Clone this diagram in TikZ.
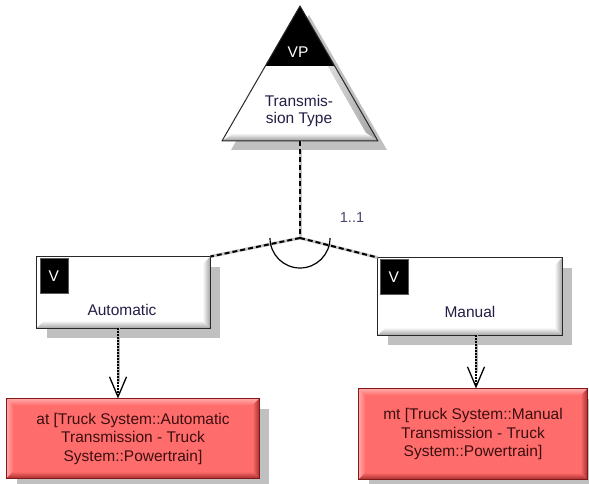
\documentclass[tikz,border=0pt]{standalone}
\usepackage{fontspec}
\setmainfont{Liberation Sans}
\usetikzlibrary{arrows.meta,shadows,calc}
\definecolor{shadowgray}{RGB}{192,192,192}
\definecolor{redfill}{RGB}{255,108,108}
\definecolor{redborder}{RGB}{130,25,25}
\definecolor{reddark}{RGB}{165,45,45}
\definecolor{redlight}{RGB}{255,170,170}
\definecolor{labelink}{RGB}{35,30,70}
\definecolor{oneink}{RGB}{70,70,110}
\definecolor{redink}{RGB}{60,15,15}
\definecolor{boxborder}{RGB}{40,40,40}
% #1 node, #2 base colour, #3 light colour, #4 dark colour, #5 bevel width, #6 border colour
\newcommand\bevelbox[6]{%
  \shade[top color=#3,bottom color=#2] (#1.north west) -- (#1.north east) -- ([shift={(-#5,-#5)}]#1.north east) -- ([shift={(#5,-#5)}]#1.north west) -- cycle;
  \shade[left color=#3,right color=#2] (#1.north west) -- ([shift={(#5,-#5)}]#1.north west) -- ([shift={(#5,#5)}]#1.south west) -- (#1.south west) -- cycle;
  \shade[left color=#2,right color=#4] (#1.north east) -- (#1.south east) -- ([shift={(-#5,#5)}]#1.south east) -- ([shift={(-#5,-#5)}]#1.north east) -- cycle;
  \shade[top color=#2,bottom color=#4] (#1.south west) -- (#1.south east) -- ([shift={(-#5,#5)}]#1.south east) -- ([shift={(#5,#5)}]#1.south west) -- cycle;
  \draw[draw=#6,line width=1pt] (#1.south west) rectangle (#1.north east);
}
\begin{document}
\begin{tikzpicture}[x=1pt,y=1pt,
  txt/.style={font=\fontsize{15.5}{19}\selectfont, text=labelink, align=center, inner sep=0pt},
  wbox/.style={draw=boxborder, line width=1pt, fill=white, inner sep=0pt,
    drop shadow={shadow xshift=10pt,shadow yshift=-10pt,fill=shadowgray,opacity=1}},
  rbox/.style={draw=redborder, line width=1pt, fill=redfill, inner sep=0pt,
    drop shadow={shadow xshift=10pt,shadow yshift=-10pt,fill=shadowgray,opacity=1}},
  badge/.style={fill=black, draw=gray!70!black, line width=0.6pt, inner sep=0pt, minimum width=28pt, minimum height=35pt,
    text=white, font=\fontsize{15.5}{19}\selectfont, anchor=north west},
  vpline/.style={line width=2pt, dash pattern=on 5pt off 3pt, preaction={draw=gray!45, line width=3pt, solid}},
  depunder/.style={draw=gray!55, line width=3pt, shorten >=16pt},
  depline/.style={line width=2pt, dash pattern=on 1.5pt off 1.5pt,
    -{Straight Barb[length=20pt,width=17pt,line width=1.3pt]}}
]
\useasboundingbox (0,0) rectangle (589,484);
\fill[white] (0,0) rectangle (589,484);

% variation point triangle
\fill[shadowgray] (309,469) -- (387,334) -- (231,334) -- cycle;
\fill[white] (300,478) -- (378,343) -- (222,343) -- cycle;
\shade[left color=white, right color=gray!75] (300,478) -- (378,343) -- (366,351) -- (300,466) -- cycle;
\shade[top color=white, bottom color=gray!80] (222,343) -- (378,343) -- (366,351) -- (234,351) -- cycle;
\fill[black] (300,478) -- (334.7,418) -- (265.3,418) -- cycle;
\draw[draw=boxborder, line width=1pt, line join=round] (300,478) -- (378,343) -- (222,343) -- cycle;
\node[txt, text=white] (vp) at (298,432) {VP};
\node[txt, font=\fontsize{15.5}{17}\selectfont] (vptext) at (299,373) {Transmis-\\sion Type};
\coordinate (vpb) at (300,343);
\coordinate (J) at (300,246);

% variant boxes
\node[wbox, minimum width=173pt, minimum height=71pt] (aut) at (123.5,191.5) {};
\bevelbox{aut}{white}{white}{gray!75}{8}{boxborder}
\node[badge] (autv) at ([shift={(3,-2)}]aut.north west) {V};
\node[txt] (autl) at (122,174) {Automatic};

\node[wbox, minimum width=184pt, minimum height=77pt] (man) at (470,187.5) {};
\bevelbox{man}{white}{white}{gray!75}{8}{boxborder}
\node[badge] (manv) at ([shift={(2,-2)}]man.north west) {V};
\node[txt] (manl) at (470,172) {Manual};

% realisation boxes
\node[rbox, minimum width=252pt, minimum height=79pt] (atbox) at (133,45.5) {};
\bevelbox{atbox}{redfill}{redlight}{reddark}{7}{redborder}
\node[txt, text=redink, font=\fontsize{15.5}{18.5}\selectfont] (atl) at (atbox) {at [Truck System::Automatic\\Transmission - Truck\\System::Powertrain]};

\node[rbox, minimum width=228pt, minimum height=90pt] (mtbox) at (473,50) {};
\bevelbox{mtbox}{redfill}{redlight}{reddark}{7}{redborder}
\node[txt, text=redink, font=\fontsize{15.5}{18.5}\selectfont] (mtl) at (mtbox) {mt [Truck System::Manual\\Transmission - Truck\\System::Powertrain]};

% connectors
\draw[vpline] (vpb) -- (J);
\draw[vpline] (J) -- (aut.north east);
\draw[vpline] (J) -- (man.north west);
\draw[line width=1.2pt] ([xshift=-30]J) arc[start angle=180,end angle=360,radius=30];
\node[txt, text=oneink, font=\fontsize{14.5}{17}\selectfont] (card) at (352,266) {1..1};

\draw[depunder] ([xshift=-5.5]aut.south) -- ([xshift=-15]atbox.north);
\draw[depline] ([xshift=-5.5]aut.south) -- ([xshift=-15]atbox.north);
\draw[depunder] ([xshift=6]man.south) -- ([xshift=3]mtbox.north);
\draw[depline] ([xshift=6]man.south) -- ([xshift=3]mtbox.north);
\end{tikzpicture}
\end{document}
